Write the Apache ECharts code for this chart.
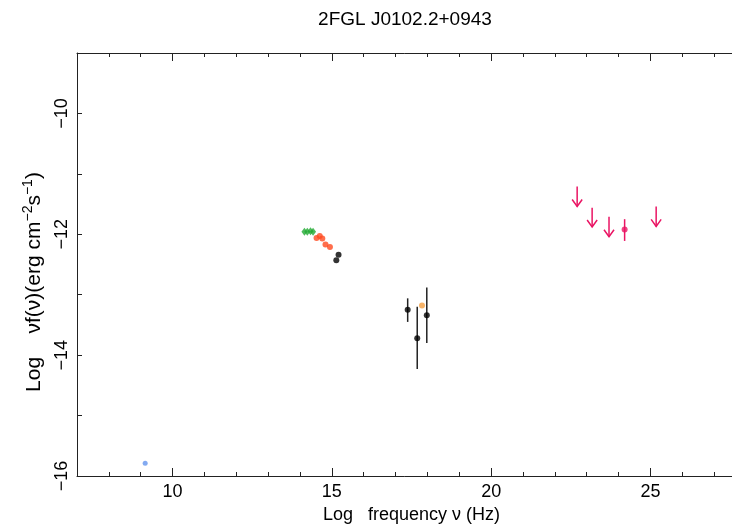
<!DOCTYPE html>
<html>
<head>
<meta charset="utf-8">
<script src="https://cdn.jsdelivr.net/npm/echarts@6/dist/echarts.min.js"></script>
<style>
  html, body { margin: 0; padding: 0; background: #fff; }
  #chart { width: 732px; height: 528px; }
</style>
</head>
<body>
<div id="chart"></div>
<script>
const TITLE = "2FGL J0102.2+0943"
const X_NAME = "Log   frequency ν (Hz)"

// radio
const radioFreq = [9.14]
const radioFlux = [-15.79]

// infrared (diamonds)
const irFreq = [14.14, 14.23, 14.33, 14.41]
const irFlux = [-11.96, -11.96, -11.95, -11.96]

// optical
const optFreq = [14.52, 14.62, 14.70, 14.80, 14.94]
const optFlux = [-12.06, -12.03, -12.07, -12.17, -12.21]

// uv
const uvFreq = [15.21, 15.14]
const uvFlux = [-12.34, -12.43]

// x-ray with error bars
const xrayFreq = [17.38, 17.68, 17.98]
const xrayFlux = [-13.25, -13.72, -13.34]
const xrayLow = [-13.45, -14.23, -13.80]
const xrayHigh = [-13.06, -13.20, -12.88]

const xrayExtraFreq = [17.83]
const xrayExtraFlux = [-13.18]

// gamma-ray detection
const gammaFreq = [24.19]
const gammaFlux = [-11.92]
const gammaLow = [-12.11]
const gammaHigh = [-11.75]

// gamma-ray upper limits (arrow start, arrow tip)
const limitFreq = [22.70, 23.17, 23.70, 25.18]
const limitTop = [-11.21, -11.56, -11.71, -11.54]
const limitTip = [-11.54, -11.88, -12.04, -11.87]

const X_MIN = 7
const X_MAX = 28
const Y_MIN = -16
const Y_MAX = -9
const MAJOR_X = [10, 15, 20, 25]
const Y_LABELS = [-16, -14, -12, -10]

const PINK = "#ea1463"
const AXIS_COLOR = "#222"
const FONT = "Liberation Sans, Arial, sans-serif"

// plot box; the right side runs past the picture edge like the original
const GRID = { left: 77, right: -14, top: 53, bottom: 52, outerBoundsMode: "none" }

const chart = echarts.init(document.getElementById("chart"), null, { renderer: "canvas" })

function pairs(xs, ys) {
  return xs.map((x, i) => [x, ys[i]])
}

function errorBarItem(color) {
  return (params, api) => {
    const x = api.value(0)
    const low = api.coord([x, api.value(1)])
    const high = api.coord([x, api.value(2)])
    return {
      type: "line",
      shape: { x1: low[0], y1: low[1], x2: high[0], y2: high[1] },
      style: { stroke: color, lineWidth: 1.5 }
    }
  }
}

function arrowItem(params, api) {
  const x = api.value(0)
  const start = api.coord([x, api.value(1)])
  const tip = api.coord([x, api.value(2)])
  const style = { stroke: PINK, lineWidth: 1.5, fill: null }
  return {
    type: "group",
    children: [
      { type: "line", shape: { x1: start[0], y1: start[1], x2: tip[0], y2: tip[1] }, style },
      {
        type: "polyline",
        shape: { points: [[tip[0] - 5, tip[1] - 7], [tip[0], tip[1]], [tip[0] + 5, tip[1] - 7]] },
        style
      }
    ]
  }
}

const baseX = {
  type: "value",
  min: X_MIN,
  max: X_MAX,
  splitLine: { show: false },
  axisLine: { show: false },
  axisLabel: { show: false }
}

const minorTicks = { inside: true, length: 4, lineStyle: { color: AXIS_COLOR } }
const majorTicks = { inside: true, length: 8, customValues: MAJOR_X, lineStyle: { color: AXIS_COLOR } }

chart.setOption({
  animation: false,
  title: {
    text: TITLE,
    left: 400,
    textAlign: "center",
    top: 5,
    textStyle: { fontFamily: FONT, fontSize: 19, fontWeight: "normal", color: "#000" }
  },
  grid: [GRID, GRID],
  xAxis: [
    {
      ...baseX,
      gridIndex: 0,
      position: "bottom",
      interval: 1,
      axisLine: { show: true, onZero: false, lineStyle: { color: AXIS_COLOR, width: 1 } },
      axisTick: minorTicks,
      axisLabel: {
        margin: 7,
        fontFamily: FONT,
        fontSize: 18,
        color: "#000",
        formatter: (v) => (MAJOR_X.includes(v) ? String(v) : "")
      },
      name: X_NAME,
      nameLocation: "middle",
      nameGap: 30,
      nameTextStyle: { fontFamily: FONT, fontSize: 18, color: "#000" }
    },
    {
      ...baseX,
      gridIndex: 0,
      position: "top",
      interval: 1,
      axisLine: { show: true, onZero: false, lineStyle: { color: AXIS_COLOR, width: 1 } },
      axisTick: minorTicks
    },
    { ...baseX, gridIndex: 1, position: "bottom", axisTick: majorTicks },
    { ...baseX, gridIndex: 1, position: "top", axisTick: majorTicks }
  ],
  yAxis: [
    {
      type: "value",
      gridIndex: 0,
      min: Y_MIN,
      max: Y_MAX,
      interval: 1,
      splitLine: { show: false },
      axisLine: { show: true, onZero: false, lineStyle: { color: AXIS_COLOR, width: 1 } },
      axisTick: { inside: true, length: 5, lineStyle: { color: AXIS_COLOR } },
      axisLabel: {
        rotate: 90,
        margin: 6,
        fontFamily: FONT,
        fontSize: 18,
        color: "#000",
        formatter: (v) => (Y_LABELS.includes(v) ? String(v).replace("-", "−") : "")
      }
    },
    { type: "value", gridIndex: 1, min: Y_MIN, max: Y_MAX, show: false }
  ],
  graphic: [
    {
      type: "text",
      x: 33,
      y: 282,
      rotation: Math.PI / 2,
      style: {
        text: "{t|Log    νf(ν)(erg cm}{s|−2}{t|s}{s|−1}{t|)}",
        align: "center",
        verticalAlign: "middle",
        rich: {
          t: { fontFamily: FONT, fontSize: 21, color: "#000", lineHeight: 24, verticalAlign: "bottom" },
          s: { fontFamily: FONT, fontSize: 14, color: "#000", lineHeight: 24, verticalAlign: "top" }
        }
      }
    }
  ],
  series: [
    {
      type: "scatter",
      symbol: "circle",
      symbolSize: 5,
      itemStyle: { color: "#6495ed" },
      data: pairs(radioFreq, radioFlux)
    },
    {
      type: "scatter",
      symbol: "diamond",
      symbolSize: [6, 8],
      itemStyle: { color: "#22aa33" },
      data: pairs(irFreq, irFlux)
    },
    {
      type: "scatter",
      symbol: "circle",
      symbolSize: 6,
      itemStyle: { color: "#ff4a1f" },
      data: pairs(optFreq, optFlux)
    },
    {
      type: "scatter",
      symbol: "circle",
      symbolSize: 6,
      itemStyle: { color: "#000" },
      data: pairs(uvFreq, uvFlux)
    },
    {
      type: "custom",
      renderItem: errorBarItem("#222"),
      data: xrayFreq.map((x, i) => [x, xrayLow[i], xrayHigh[i]])
    },
    {
      type: "scatter",
      symbol: "circle",
      symbolSize: 6,
      itemStyle: { color: "#f5a042" },
      data: pairs(xrayExtraFreq, xrayExtraFlux)
    },
    {
      type: "scatter",
      symbol: "circle",
      symbolSize: 6,
      itemStyle: { color: "#000" },
      z: 3,
      data: pairs(xrayFreq, xrayFlux)
    },
    {
      type: "custom",
      renderItem: errorBarItem(PINK),
      data: gammaFreq.map((x, i) => [x, gammaLow[i], gammaHigh[i]])
    },
    {
      type: "scatter",
      symbol: "circle",
      symbolSize: 6,
      itemStyle: { color: PINK },
      z: 3,
      data: pairs(gammaFreq, gammaFlux)
    },
    {
      type: "custom",
      renderItem: arrowItem,
      data: limitFreq.map((x, i) => [x, limitTop[i], limitTip[i]])
    }
  ]
})
</script>
</body>
</html>
